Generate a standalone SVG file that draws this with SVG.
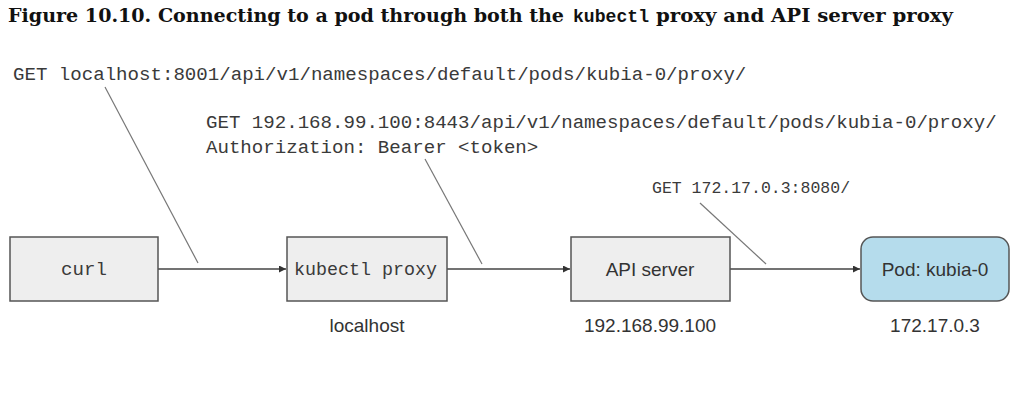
<svg xmlns="http://www.w3.org/2000/svg" width="1027" height="403" viewBox="0 0 1027 403">
  <defs>
    <style>
      .title { font-family: "DejaVu Serif", "Liberation Serif", serif; font-weight: bold; font-size: 18.5px; fill: #111; }
      .titlemono { font-family: "Liberation Mono", "DejaVu Sans Mono", monospace; font-weight: bold; font-size: 18px; fill: #111; }
      .mono { font-family: "Liberation Mono", "Courier New", monospace; font-size: 19.1px; fill: #3a3a3a; }
      .sans { font-family: "Liberation Sans", Arial, sans-serif; font-size: 19px; fill: #333; }
      .box { fill: #eeeeee; stroke: #555; stroke-width: 1.5; }
      .pod { fill: #b5dcec; stroke: #555; stroke-width: 1.5; }
      .edge { stroke: #444; stroke-width: 1.4; fill: none; }
      .leader { stroke: #777; stroke-width: 1.2; fill: none; }
    </style>
    <marker id="arrow" viewBox="0 0 10 10" refX="10" refY="5" markerWidth="9" markerHeight="7" markerUnits="userSpaceOnUse" orient="auto">
      <path d="M0,0 L10,5 L0,10 z" fill="#333"/>
    </marker>
  </defs>
  <rect width="1027" height="403" fill="#ffffff"/>

  <g id="title">
    <text class="title" x="8" y="22"><tspan textLength="556" lengthAdjust="spacingAndGlyphs">Figure 10.10. Connecting to a pod through both the</tspan><tspan class="titlemono" x="573" textLength="76" lengthAdjust="spacingAndGlyphs">kubectl</tspan><tspan x="656" textLength="297" lengthAdjust="spacingAndGlyphs">proxy and API server proxy</tspan></text>
  </g>

  <g id="labels">
    <text class="mono" x="13" y="80">GET localhost:8001/api/v1/namespaces/default/pods/kubia-0/proxy/</text>
    <text class="mono" x="206" y="128">GET 192.168.99.100:8443/api/v1/namespaces/default/pods/kubia-0/proxy/</text>
    <text class="mono" x="206" y="153">Authorization: Bearer &lt;token&gt;</text>
    <text class="mono" x="652" y="193" style="font-size:16.5px">GET 172.17.0.3:8080/</text>
  </g>

  <g id="connectors">
    <line class="edge" x1="158" y1="269" x2="286" y2="269" marker-end="url(#arrow)"/>
    <line class="edge" x1="447" y1="269" x2="570" y2="269" marker-end="url(#arrow)"/>
    <line class="edge" x1="730" y1="269" x2="860" y2="269" marker-end="url(#arrow)"/>
    <line class="leader" x1="105" y1="87" x2="198" y2="263"/>
    <line class="leader" x1="425" y1="159" x2="482" y2="264"/>
    <line class="leader" x1="700" y1="203" x2="766" y2="264"/>
  </g>

  <g id="curl">
    <rect class="box" x="10" y="237" width="148" height="64"/>
    <text class="mono" x="84" y="275" text-anchor="middle">curl</text>
  </g>

  <g id="kubectl-proxy">
    <rect class="box" x="287" y="237" width="160" height="64"/>
    <text class="mono" x="294" y="275" style="font-size:18px" textLength="143" lengthAdjust="spacingAndGlyphs">kubectl proxy</text>
    <text class="sans" x="367" y="332" text-anchor="middle">localhost</text>
  </g>

  <g id="api-server">
    <rect class="box" x="571" y="237" width="159" height="64"/>
    <text class="sans" x="650" y="276" text-anchor="middle">API server</text>
    <text class="sans" x="650" y="332" text-anchor="middle">192.168.99.100</text>
  </g>

  <g id="pod">
    <rect class="pod" x="861" y="237" width="148" height="64" rx="12" ry="12"/>
    <text class="sans" x="935" y="276" text-anchor="middle">Pod: kubia-0</text>
    <text class="sans" x="935" y="332" text-anchor="middle">172.17.0.3</text>
  </g>
</svg>
